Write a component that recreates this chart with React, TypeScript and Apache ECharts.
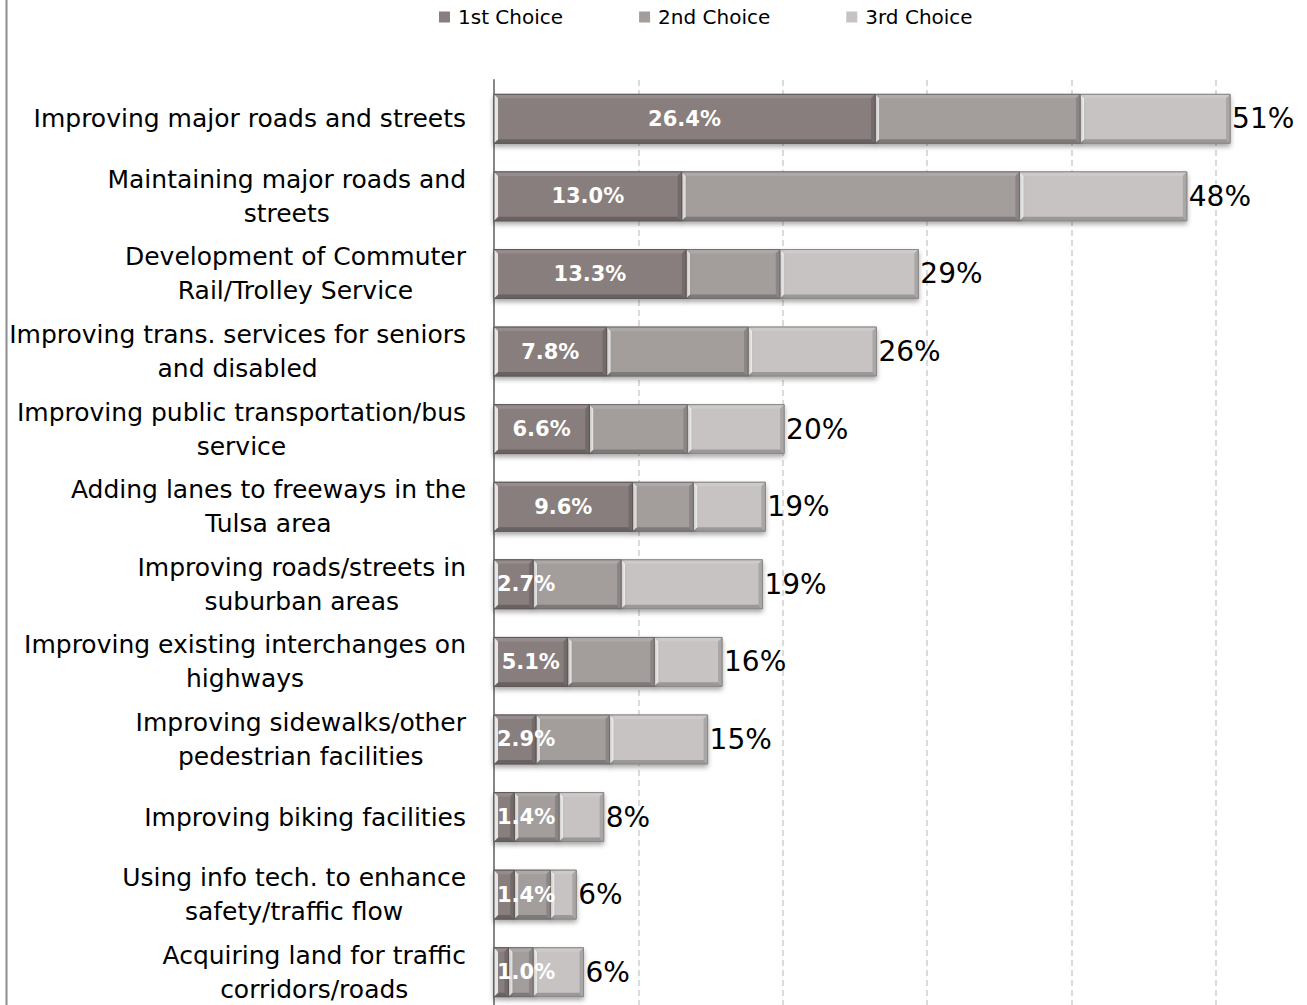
import React, { useEffect, useRef } from "react";
import * as echarts from "echarts";

const categories = [
  "Improving major roads and streets",
  "Maintaining major roads and\nstreets",
  "Development of Commuter\nRail/Trolley Service",
  "Improving trans. services for seniors\nand disabled",
  "Improving public transportation/bus\nservice",
  "Adding lanes to freeways in the\nTulsa area",
  "Improving roads/streets in\nsuburban areas",
  "Improving existing interchanges on\nhighways",
  "Improving sidewalks/other\npedestrian facilities",
  "Improving biking facilities",
  "Using info tech. to enhance\nsafety/traffic flow",
  "Acquiring land for traffic\ncorridors/roads",
];
const firstChoice = [26.4, 13.0, 13.3, 7.8, 6.6, 9.6, 2.7, 5.1, 2.9, 1.4, 1.4, 1.0];
const secondChoice = [14.2, 23.4, 6.5, 9.8, 6.8, 4.2, 6.1, 6.0, 5.1, 3.1, 2.5, 1.7];
const thirdChoice = [10.4, 11.6, 9.6, 8.9, 6.7, 5.0, 9.8, 4.7, 6.8, 3.1, 1.8, 3.5];
const totalLabels = [51, 48, 29, 26, 20, 19, 19, 16, 15, 8, 6, 6];
const seriesNames = ["1st Choice", "2nd Choice", "3rd Choice"];
const seriesColors = ["#877E7D", "#A39D9C", "#C7C3C2"];
const xMin = 0;
const xMax = 60;
const xInterval = 10;

const FONT = "DejaVu Sans";

function mix(hex: string, t: number): string {
  const n = parseInt(hex.slice(1), 16);
  let r = (n >> 16) & 255;
  let g = (n >> 8) & 255;
  let b = n & 255;
  const tgt = t >= 0 ? 255 : 0;
  const a = Math.abs(t);
  r = Math.round(r + (tgt - r) * a);
  g = Math.round(g + (tgt - g) * a);
  b = Math.round(b + (tgt - b) * a);
  return `rgb(${r},${g},${b})`;
}

const allSeries = [firstChoice, secondChoice, thirdChoice];

function buildData(si: number) {
  return categories.map((_, i) => {
    let start = 0;
    for (let k = 0; k < si; k++) start += allSeries[k][i];
    const end = start + allSeries[si][i];
    return [start, end, i];
  });
}

function makeRender(si: number) {
  const base = seriesColors[si];
  return (params: any, api: any) => {
    const start = api.value(0);
    const end = api.value(1);
    const idx = api.value(2);
    const p0 = api.coord([start, idx]);
    const p1 = api.coord([end, idx]);
    const bandH = api.size([0, 1])[1];
    const h = bandH * 0.63;
    const x = p0[0];
    const y = p0[1] - h / 2;
    const w = p1[0] - p0[0];
    const b = Math.min(4, w / 3);
    const children: any[] = [
      {
        type: "rect",
        shape: { x, y, width: w, height: h },
        style: {
          fill: base,
          stroke: mix(base, -0.3),
          lineWidth: 1,
          shadowBlur: 5,
          shadowOffsetY: 3,
          shadowColor: "rgba(0,0,0,0.35)",
        },
      },
      {
        type: "polygon",
        shape: { points: [[x, y], [x + w, y], [x + w - b, y + b], [x + b, y + b]] },
        style: { fill: mix(base, 0.12) },
      },
      {
        type: "polygon",
        shape: { points: [[x, y + h], [x + w, y + h], [x + w - b, y + h - b], [x + b, y + h - b]] },
        style: { fill: mix(base, -0.22) },
      },
      {
        type: "polygon",
        shape: { points: [[x, y], [x + b, y + b], [x + b, y + h - b], [x, y + h]] },
        style: { fill: mix(base, 0.8) },
      },
      {
        type: "polygon",
        shape: { points: [[x + w, y], [x + w - b, y + b], [x + w - b, y + h - b], [x + w, y + h]] },
        style: { fill: mix(base, -0.15) },
      },
      {
        type: "rect",
        shape: { x, y, width: w, height: h },
        style: { fill: "none", stroke: mix(base, -0.3), lineWidth: 1 },
      },
    ];
    if (si === 0) {
      const v = allSeries[0][idx];
      const tw = 60;
      const cx = x + w / 2;
      const leftAligned = cx - tw / 2 < x + 3;
      children.push({
        type: "text",
        style: {
          text: v.toFixed(1) + "%",
          x: leftAligned ? x + 3 : cx,
          y: p0[1],
          align: leftAligned ? "left" : "center",
          verticalAlign: "middle",
          fill: "#ffffff",
          font: `bold 21px "${FONT}"`,
        },
      });
    }
    if (si === 2) {
      children.push({
        type: "text",
        style: {
          text: totalLabels[idx] + "%",
          x: p1[0] + 2,
          y: p0[1],
          align: "left",
          verticalAlign: "middle",
          fill: "#000000",
          font: `28px "${FONT}"`,
        },
      });
    }
    return { type: "group", children };
  };
}

export default function App() {
  const ref = useRef<HTMLDivElement>(null);
  useEffect(() => {
    if (!ref.current) return;
    const chart = echarts.init(ref.current, undefined, { renderer: "svg" });
    chart.setOption({
      animation: false,
      backgroundColor: "#ffffff",
      textStyle: { fontFamily: FONT },
      legend: {
        data: seriesNames,
        left: 434,
        top: 2,
        icon: "rect",
        itemWidth: 11,
        itemHeight: 11,
        itemGap: 76,
        textStyle: { fontSize: 20, color: "#000", fontFamily: FONT, padding: [0, 0, 0, 3] },
      },
      graphic: [
        {
          type: "line",
          shape: { x1: 6.5, y1: 0, x2: 6.5, y2: 1012 },
          style: { stroke: "#8c8c8c", lineWidth: 2 },
        },
      ],
      grid: { left: 494, top: 80, right: 0, bottom: 0 },
      xAxis: {
        type: "value",
        min: xMin,
        max: xMax,
        interval: xInterval,
        axisLabel: { show: false },
        axisLine: { show: false },
        axisTick: { show: false },
        splitLine: {
          show: true,
          lineStyle: { color: "#cfcfcf", width: 1.5, type: [6, 4] },
        },
      },
      yAxis: {
        type: "category",
        inverse: true,
        data: categories,
        axisLine: { show: true, lineStyle: { color: "#868686", width: 2 } },
        axisTick: { show: false },
        axisLabel: {
          margin: 28,
          formatter: (v: string) =>
            v
              .split("\n")
              .map((l) => `{c|${l}}`)
              .join("\n"),
          rich: {
            c: { align: "center", fontSize: 25, lineHeight: 34, color: "#000", fontFamily: FONT },
          },
        },
      },
      series: [0, 1, 2].map((si) => ({
        type: "custom",
        name: seriesNames[si],
        coordinateSystem: "cartesian2d",
        encode: { x: [0, 1], y: 2 },
        itemStyle: { color: seriesColors[si] },
        z: 5 - si,
        clip: false,
        renderItem: makeRender(si),
        data: buildData(si),
      })),
    });
    return () => chart.dispose();
  }, []);
  return (
    <div
      style={{
        position: "fixed",
        left: 0,
        top: 0,
        width: 1307,
        height: 1005,
        overflow: "hidden",
        background: "#fff",
      }}
    >
      <div ref={ref} style={{ width: 1360.4, height: 1011.2 }} />
    </div>
  );
}
